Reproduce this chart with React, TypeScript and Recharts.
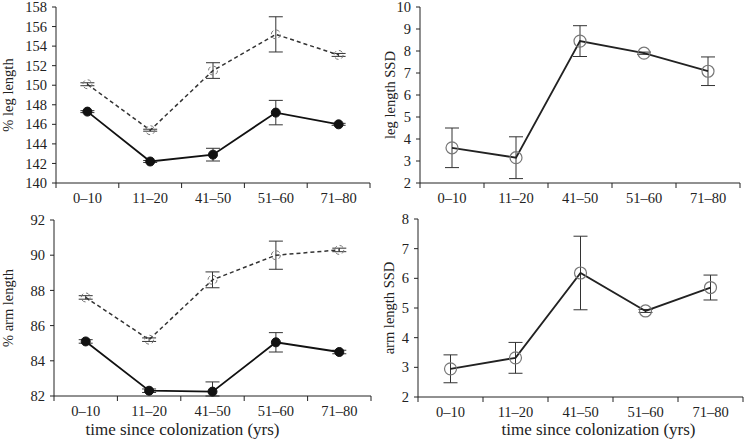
import React from 'react';
import { LineChart, Line, XAxis, YAxis, ErrorBar } from 'recharts';

const categories = ['0–10', '11–20', '41–50', '51–60', '71–80'];

// % leg length (dashed = open circles, solid = filled circles)
const legPctDashed = [150.1, 145.4, 151.5, 155.2, 153.1];
const legPctDashedErr = [0.15, 0.1, 0.8, 1.8, 0.15];
const legPctSolid = [147.3, 142.2, 142.9, 147.2, 146.0];
const legPctSolidErr = [0.1, 0.1, 0.65, 1.25, 0.1];

// % arm length
const armPctDashed = [87.6, 85.2, 88.6, 90.0, 90.3];
const armPctDashedErr = [0.1, 0.1, 0.45, 0.8, 0.1];
const armPctSolid = [85.1, 82.3, 82.25, 85.05, 84.5];
const armPctSolidErr: (number | [number, number])[] = [0.1, 0.1, [0.25, 0.55], 0.55, 0.1];

// SSD
const legSSD = [3.6, 3.15, 8.45, 7.9, 7.08];
const legSSDErr = [0.9, 0.95, 0.7, 0.05, 0.65];
const armSSD = [2.95, 3.32, 6.18, 4.9, 5.69];
const armSSDErr = [0.47, 0.52, 1.24, 0.05, 0.42];

const legPctTicks = [140, 142, 144, 146, 148, 150, 152, 154, 156, 158];
const legSSDTicks = [2, 3, 4, 5, 6, 7, 8, 9, 10];
const armPctTicks = [82, 84, 86, 88, 90, 92];
const armSSDTicks = [2, 3, 4, 5, 6, 7, 8];

const FONT = 'Liberation Serif, Times New Roman, serif';
const INK = '#222';

const pctLegData = categories.map((c, i) => ({
  cat: c, dashed: legPctDashed[i], dashedErr: legPctDashedErr[i], solid: legPctSolid[i], solidErr: legPctSolidErr[i]
}));
const pctArmData = categories.map((c, i) => ({
  cat: c, dashed: armPctDashed[i], dashedErr: armPctDashedErr[i], solid: armPctSolid[i], solidErr: armPctSolidErr[i]
}));
const ssdLegData = categories.map((c, i) => ({ cat: c, v: legSSD[i], err: legSSDErr[i] }));
const ssdArmData = categories.map((c, i) => ({ cat: c, v: armSSD[i], err: armSSDErr[i] }));

// category label plus tick marks at the band edges
const CatTick = (props: any) => {
  const { x, y, payload, index, visibleTicksCount, width } = props;
  const half = payload.offset ?? width / (2 * visibleTicksCount);
  const last = index === visibleTicksCount - 1;
  return (
    <g>
      <line x1={x - half} x2={x - half} y1={y} y2={y + 5} stroke={INK} />
      {last && <line x1={x + half} x2={x + half} y1={y} y2={y + 5} stroke={INK} />}
      <text x={x} y={y + 10} dy="0.71em" textAnchor="middle" fill={INK}
        style={{ fontSize: 14.5, fontFamily: FONT }}>
        {payload.value}
      </text>
    </g>
  );
};

const yTick = { fill: INK, fontSize: 14.5, fontFamily: FONT, style: { fontFamily: FONT } };
const yLabelStyle = { textAnchor: 'middle' as const, fill: INK, fontSize: 14.5, fontFamily: FONT };
const titleStyle = { fill: INK, fontSize: 17, fontFamily: FONT };

const TITLE = 'time since colonization (yrs)';

export default function App() {
  return (
    <div style={{ position: 'absolute', left: 0, top: 0, width: 744, height: 441, background: '#fff', fontFamily: FONT }}>
      {/* top left: % leg length */}
      <div style={{ position: 'absolute', left: 0, top: 0 }}>
        <LineChart width={372} height={218} data={pctLegData} margin={{ top: 7, right: 2, bottom: 0, left: 0 }}>
          <XAxis dataKey="cat" scale="band" height={35} interval={0} tickLine={false} tickSize={0} tickMargin={0}
            axisLine={{ stroke: INK }} tick={<CatTick />} />
          <YAxis width={56} domain={[140, 158]} ticks={legPctTicks} interval={0} tick={yTick} tickSize={4} tickMargin={5}
            axisLine={{ stroke: INK }} tickLine={{ stroke: INK }}
            label={{ value: '% leg length', angle: -90, position: 'insideLeft', offset: 8, style: yLabelStyle }} />
          <Line dataKey="dashed" stroke="#333" strokeWidth={1.5} strokeDasharray="4 3" isAnimationActive={false}
            dot={{ r: 4.5, fill: 'none', stroke: '#777', strokeWidth: 1 }} activeDot={false}>
            <ErrorBar dataKey="dashedErr" width={7} stroke="#333" strokeWidth={1} direction="y" />
          </Line>
          <Line dataKey="solid" stroke="#111" strokeWidth={1.8} isAnimationActive={false}
            dot={{ r: 4.5, fill: '#111', stroke: '#111', strokeWidth: 1 }} activeDot={false}>
            <ErrorBar dataKey="solidErr" width={7} stroke="#333" strokeWidth={1} direction="y" />
          </Line>
        </LineChart>
      </div>

      {/* top right: leg length SSD */}
      <div style={{ position: 'absolute', left: 372, top: 0 }}>
        <LineChart width={372} height={218} data={ssdLegData} margin={{ top: 7, right: 4, bottom: 0, left: 0 }}>
          <XAxis dataKey="cat" scale="band" height={35} interval={0} tickLine={false} tickSize={0} tickMargin={0}
            axisLine={{ stroke: INK }} tick={<CatTick />} />
          <YAxis width={48} domain={[2, 10]} ticks={legSSDTicks} interval={0} tick={yTick} tickSize={4} tickMargin={5}
            axisLine={{ stroke: INK }} tickLine={{ stroke: INK }}
            label={{ value: 'leg length SSD', angle: -90, position: 'insideLeft', offset: 18, style: yLabelStyle }} />
          <Line dataKey="v" stroke="#222" strokeWidth={1.8} isAnimationActive={false}
            dot={{ r: 6, fill: 'none', stroke: '#777', strokeWidth: 1.2 }} activeDot={false}>
            <ErrorBar dataKey="err" width={7} stroke="#333" strokeWidth={1} direction="y" />
          </Line>
        </LineChart>
      </div>

      {/* bottom left: % arm length */}
      <div style={{ position: 'absolute', left: 0, top: 210 }}>
        <LineChart width={372} height={231} data={pctArmData} margin={{ top: 10, right: 1, bottom: 0, left: 0 }}>
          <XAxis dataKey="cat" scale="band" height={45} interval={0} tickLine={false} tickSize={0} tickMargin={0}
            axisLine={{ stroke: INK }} tick={<CatTick />}
            label={{ value: TITLE, position: 'insideBottom', offset: 6, dx: -30, style: titleStyle }} />
          <YAxis width={54} domain={[82, 92]} ticks={armPctTicks} interval={0} tick={yTick} tickSize={4} tickMargin={5}
            axisLine={{ stroke: INK }} tickLine={{ stroke: INK }}
            label={{ value: '% arm length', angle: -90, position: 'insideLeft', offset: 8, style: yLabelStyle }} />
          <Line dataKey="dashed" stroke="#333" strokeWidth={1.5} strokeDasharray="4 3" isAnimationActive={false}
            dot={{ r: 4.5, fill: 'none', stroke: '#777', strokeWidth: 1 }} activeDot={false}>
            <ErrorBar dataKey="dashedErr" width={7} stroke="#333" strokeWidth={1} direction="y" />
          </Line>
          <Line dataKey="solid" stroke="#111" strokeWidth={1.8} isAnimationActive={false}
            dot={{ r: 4.5, fill: '#111', stroke: '#111', strokeWidth: 1 }} activeDot={false}>
            <ErrorBar dataKey="solidErr" width={7} stroke="#333" strokeWidth={1} direction="y" />
          </Line>
        </LineChart>
      </div>

      {/* bottom right: arm length SSD */}
      <div style={{ position: 'absolute', left: 372, top: 210 }}>
        <LineChart width={372} height={231} data={ssdArmData} margin={{ top: 9, right: 1, bottom: 0, left: 0 }}>
          <XAxis dataKey="cat" scale="band" height={44} interval={0} tickLine={false} tickSize={0} tickMargin={0}
            axisLine={{ stroke: INK }} tick={<CatTick />}
            label={{ value: TITLE, position: 'insideBottom', offset: 6, dx: 18, style: titleStyle }} />
          <YAxis width={46} domain={[2, 8]} ticks={armSSDTicks} interval={0} tick={yTick} tickSize={4} tickMargin={5}
            axisLine={{ stroke: INK }} tickLine={{ stroke: INK }}
            label={{ value: 'arm length SSD', angle: -90, position: 'insideLeft', offset: 17, style: yLabelStyle }} />
          <Line dataKey="v" stroke="#222" strokeWidth={1.8} isAnimationActive={false}
            dot={{ r: 6, fill: 'none', stroke: '#777', strokeWidth: 1.2 }} activeDot={false}>
            <ErrorBar dataKey="err" width={7} stroke="#333" strokeWidth={1} direction="y" />
          </Line>
        </LineChart>
      </div>
    </div>
  );
}
